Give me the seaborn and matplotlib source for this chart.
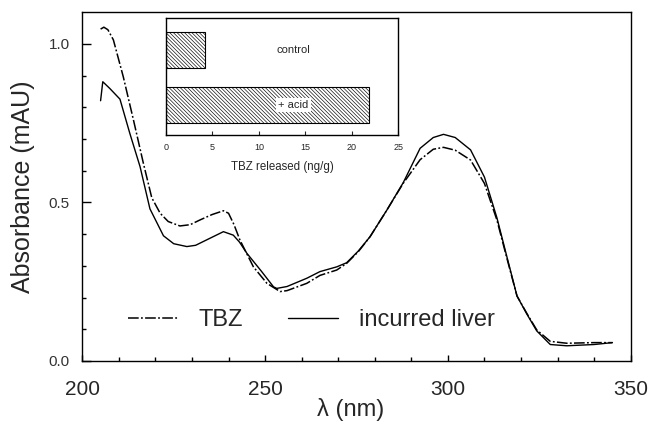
import numpy as np
import pandas as pd
import matplotlib
matplotlib.use("Agg")
import matplotlib.pyplot as plt
import seaborn as sns

# ---- data ----
lam_tbz = [205.0, 205.9, 207.0, 208.5, 211.2, 214.0, 216.7, 219.0, 221.3, 223.5,
           226.7, 229.5, 232.2, 235.5, 238.6, 240.0, 241.5, 243.1, 246.8, 250.5,
           254.1, 256.0, 261.4, 265.0, 269.6, 272.3, 275.5, 278.7, 283.3, 287.8,
           292.4, 296.0, 298.8, 302.0, 306.2, 310.0, 313.4, 316.0, 318.9, 321.6,
           324.3, 328.0, 332.5, 340.0, 345.0]
abs_tbz = [1.047, 1.053, 1.045, 1.013, 0.897, 0.760, 0.624, 0.515, 0.466, 0.440,
           0.426, 0.430, 0.445, 0.462, 0.474, 0.466, 0.430, 0.382, 0.297, 0.245,
           0.219, 0.222, 0.245, 0.270, 0.287, 0.308, 0.345, 0.392, 0.476, 0.561,
           0.635, 0.668, 0.674, 0.665, 0.634, 0.560, 0.445, 0.330, 0.205, 0.150,
           0.098, 0.062, 0.056, 0.058, 0.058]

lam_liver = [205.0, 205.6, 207.5, 210.3, 213.0, 215.8, 218.5, 222.2, 225.0, 228.6,
             231.0, 234.0, 238.6, 241.3, 243.0, 245.0, 249.0, 252.3, 253.2, 256.0,
             261.4, 265.0, 269.6, 272.3, 275.5, 278.7, 283.3, 287.8, 292.4, 296.0,
             298.8, 302.0, 306.2, 310.0, 313.4, 316.0, 318.9, 321.6, 324.3, 328.0,
             332.5, 340.0, 345.0]
abs_liver = [0.821, 0.881, 0.860, 0.826, 0.718, 0.613, 0.480, 0.395, 0.370, 0.361,
             0.365, 0.382, 0.408, 0.397, 0.375, 0.340, 0.283, 0.234, 0.229, 0.235,
             0.261, 0.282, 0.297, 0.310, 0.347, 0.392, 0.476, 0.563, 0.671, 0.705,
             0.715, 0.705, 0.666, 0.580, 0.452, 0.335, 0.205, 0.148, 0.095, 0.052,
             0.048, 0.052, 0.058]

inset_categories = ["control", "+ acid"]
inset_values = [4.2, 21.8]

x_ticks = [200, 250, 300, 350]
y_ticks = [0.0, 0.5, 1.0]
y_ticklabels = ["0.0", "0.5", "1.0"]
inset_ticks = [0, 5, 10, 15, 20, 25]

# ---- style ----
sns.set_style("ticks")
plt.rcParams["font.family"] = ["Liberation Sans", "DejaVu Sans"]
plt.rcParams["xtick.direction"] = "in"
plt.rcParams["ytick.direction"] = "in"
plt.rcParams["hatch.linewidth"] = 0.45

fig = plt.figure(figsize=(6.49, 4.45), dpi=100)
ax = fig.add_axes([82.3 / 649, 1 - 361 / 445, (630.7 - 82.3) / 649, (361 - 12) / 445])

df_t = pd.DataFrame({"lam": lam_tbz, "A": abs_tbz})
df_l = pd.DataFrame({"lam": lam_liver, "A": abs_liver})

sns.lineplot(data=df_t, x="lam", y="A", ax=ax, color="black", lw=1.1,
             label="TBZ", sort=False)
sns.lineplot(data=df_l, x="lam", y="A", ax=ax, color="black", lw=1.0,
             label="incurred liver", sort=False)
ax.lines[0].set_dashes([7, 1.5, 1.2, 1.5])

ax.set_xlim(200, 350)
ax.set_ylim(0, (361 - 12) / 317)
ax.set_xticks(x_ticks)
ax.set_xticks(np.arange(200, 351, 10), minor=True)
ax.set_yticks(y_ticks)
ax.set_yticklabels(y_ticklabels)
ax.set_yticks(np.arange(0, 1.05, 0.1), minor=True)
ax.tick_params(axis="both", which="both", direction="in", color="black")
ax.tick_params(axis="y", which="major", length=6.5, width=1, labelsize=11,
               pad=9, labelcolor="#333333")
ax.tick_params(axis="y", which="minor", length=3, width=1)
ax.tick_params(axis="x", which="major", length=4.5, width=1, labelsize=15, pad=14)
ax.tick_params(axis="x", which="minor", length=3, width=1)
for s in ax.spines.values():
    s.set_linewidth(1.0)
    s.set_color("black")

ax.set_xlabel("λ (nm)", fontsize=17)
ax.set_ylabel("Absorbance (mAU)", fontsize=18)
ax.xaxis.set_label_coords((351 - 82.3) / 548.4, (361 - 398) / 349)
ax.yaxis.set_label_coords((35 - 82.3) / 548.4, 0.5)

leg = ax.legend(loc="center left", bbox_to_anchor=((128 - 82.3) / 548.4, (361 - 320) / 349),
                ncol=2, frameon=False, fontsize=17, handlelength=2.1,
                handletextpad=0.9, columnspacing=1.9, borderpad=0, borderaxespad=0)

# ---- inset ----
ins = fig.add_axes([166 / 649, 1 - 135 / 445, (398.3 - 166) / 649, (135 - 18.3) / 445])
df_i = pd.DataFrame({"cat": inset_categories, "val": inset_values})
hatch = "\\" * 9
sns.barplot(data=df_i, x="val", y="cat", ax=ins, orient="h", color="white",
            edgecolor="black", linewidth=0.8, width=0.66, hatch=hatch)
for p in ins.patches:
    p.set_hatch(hatch)
    p.set_edgecolor("black")
    p.set_facecolor("white")
ins.set_xlim(0, 25)
ins.set_ylim(1.55, -0.58)
ins.set_xticks(inset_ticks)
ins.set_yticks([])
ins.set_xlabel("TBZ released (ng/g)", fontsize=8.3, labelpad=6)
ins.set_ylabel("")
ins.tick_params(axis="x", direction="in", length=3, labelsize=6.5, pad=6)
for s in ins.spines.values():
    s.set_linewidth(1.0)
    s.set_color("black")
ins.text(13.7, 0.0, "control", fontsize=8, ha="center", va="center")
ins.text(13.7, 1.0, "+ acid", fontsize=8, ha="center", va="center",
         bbox=dict(facecolor="white", edgecolor="none", pad=1.5))

fig.savefig("out.png", dpi=100)
